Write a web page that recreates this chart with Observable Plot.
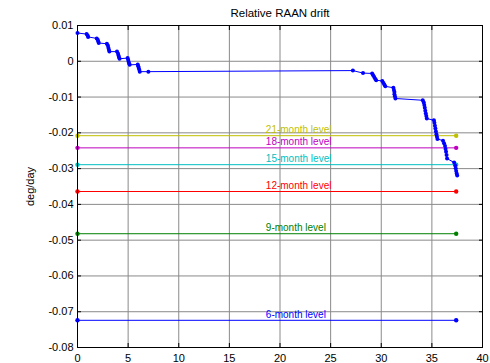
<!DOCTYPE html>
<html>
<head>
<meta charset="utf-8">
<script src="https://cdn.jsdelivr.net/npm/d3@7"></script>
<script src="https://cdn.jsdelivr.net/npm/@observablehq/plot@0.6"></script>
<style>
  html, body { margin: 0; padding: 0; background: #fff; }
  svg { font-family: "Liberation Sans", Arial, sans-serif; }
</style>
</head>
<body>
<div id="chart"></div>
<script>
// Relative RAAN drift samples (days, deg/day)
const driftX = [0,
  0.9, 1.0, 1.05,
  1.9, 2.0, 2.05, 2.1,
  2.9, 3.0, 3.05, 3.1, 3.15,
  3.9, 4.0, 4.05, 4.1, 4.15,
  4.95, 5.0, 5.05, 5.1, 5.15,
  5.95, 6.0, 6.05, 6.1, 6.15,
  7.0,
  27.2,
  28.2,
  29.1, 29.2, 29.3, 29.4, 29.5,
  30.1, 30.2, 30.3, 30.4,
  31.2, 31.25, 31.3, 31.3, 31.35, 31.4,
  34.1,
  34.2, 34.25, 34.3, 34.35, 34.4, 34.45, 34.5,
  35.2, 35.25, 35.3, 35.35, 35.4, 35.45, 35.5, 35.55,
  36.1, 36.2, 36.3, 36.35, 36.4, 36.45, 36.5,
  37.2, 37.3, 37.35, 37.4, 37.45, 37.5];
const driftY = [0.0079,
  0.0076, 0.0072, 0.0068,
  0.0064, 0.0060, 0.0055, 0.0051,
  0.0049, 0.0044, 0.0038, 0.0032, 0.0027,
  0.0027, 0.0022, 0.0016, 0.0011, 0.0007,
  0.0009, 0.0004, -0.0001, -0.0006, -0.0010,
  -0.0009, -0.0014, -0.0019, -0.0024, -0.0029,
  -0.0029,
  -0.0026,
  -0.0033,
  -0.0034, -0.0039, -0.0044, -0.0049, -0.0053,
  -0.0055, -0.0060, -0.0065, -0.0070,
  -0.0074, -0.0080, -0.0086, -0.0092, -0.0098, -0.0104,
  -0.0109,
  -0.0115, -0.0122, -0.0130, -0.0138, -0.0146, -0.0153, -0.0160,
  -0.0165, -0.0172, -0.0180, -0.0188, -0.0196, -0.0204, -0.0211, -0.0217,
  -0.0222, -0.0229, -0.0237, -0.0245, -0.0253, -0.0262, -0.0272,
  -0.0283, -0.0291, -0.0299, -0.0307, -0.0314, -0.0319];

// Required drift levels
const levelNames = ["6-month level", "9-month level", "12-month level", "15-month level", "18-month level", "21-month level"];
const levelValues = [-0.0724, -0.0482, -0.0364, -0.0289, -0.0242, -0.0208];
const levelColors = ["#0000ff", "#008000", "#ff0000", "#00bfbf", "#bf00bf", "#bfbf00"];
const levelStartX = 0;
const levelEndX = 37.4;
const labelX = 18.6;

const xTicks = [0, 5, 10, 15, 20, 25, 30, 35, 40];
const yTicks = [0.01, 0, -0.01, -0.02, -0.03, -0.04, -0.05, -0.06, -0.07, -0.08];

const drift = driftX.map((x, i) => ({x, y: driftY[i]}));
const levels = levelNames.map((name, i) => ({name, value: levelValues[i], color: levelColors[i]}));
const levelPoints = levels.flatMap(d => [
  {x: levelStartX, y: d.value, color: d.color, name: d.name},
  {x: levelEndX, y: d.value, color: d.color, name: d.name}
]);

const fmtY = d => d === 0 ? "0" : d.toFixed(2);

const chart = Plot.plot({
  width: 490,
  height: 363,
  marginLeft: 77,
  marginRight: 8,
  marginTop: 25,
  marginBottom: 16,
  style: {fontFamily: "'Liberation Sans', Arial, sans-serif", fontSize: "11px", background: "#fff", color: "#000"},
  x: {domain: [0, 40]},
  y: {domain: [-0.08, 0.01]},
  marks: [
    Plot.gridX(xTicks, {stroke: "#8a8a8a", strokeOpacity: 1, strokeWidth: 1}),
    Plot.gridY(yTicks, {stroke: "#8a8a8a", strokeOpacity: 1, strokeWidth: 1}),
    // level lines
    Plot.line(levelPoints, {x: "x", y: "y", z: "name", stroke: "color", strokeWidth: 1}),
    Plot.dot(levelPoints, {x: "x", y: "y", fill: "color", r: 2.2, stroke: null}),
    Plot.text(levels, {x: labelX, y: "value", text: "name", fill: "color", textAnchor: "start", dy: -6, fontSize: 10}),
    // drift
    Plot.line(drift, {x: "x", y: "y", stroke: "#0000ff", strokeWidth: 1}),
    Plot.dot(drift, {x: "x", y: "y", fill: "#0000ff", r: 2, stroke: null}),
    Plot.frame({stroke: "#000", strokeWidth: 1}),
    // inward ticks
    Plot.axisX(xTicks, {anchor: "bottom", tickSize: -4, tickFormat: () => "", label: null}),
    Plot.axisX(xTicks, {anchor: "top", tickSize: -4, tickFormat: () => "", label: null}),
    Plot.axisY(yTicks, {anchor: "left", tickSize: -4, tickFormat: () => "", label: null}),
    Plot.axisY(yTicks, {anchor: "right", tickSize: -4, tickFormat: () => "", label: null}),
    // tick labels
    Plot.axisX(xTicks, {anchor: "bottom", tickSize: 0, tickPadding: 7, tickFormat: d => String(d), label: null, fontSize: 11}),
    Plot.axisY(yTicks, {anchor: "left", tickSize: 0, tickPadding: 4, tickFormat: fmtY, label: "deg/day", labelAnchor: "center", labelArrow: "none", labelOffset: 51, fontSize: 11}),
    // title
    Plot.text(["Relative RAAN drift"], {frameAnchor: "top", text: d => d, dy: -9, lineAnchor: "bottom", fontSize: 11.5, fill: "#000"})
  ]
});
document.getElementById("chart").appendChild(chart);
</script>
</body>
</html>
